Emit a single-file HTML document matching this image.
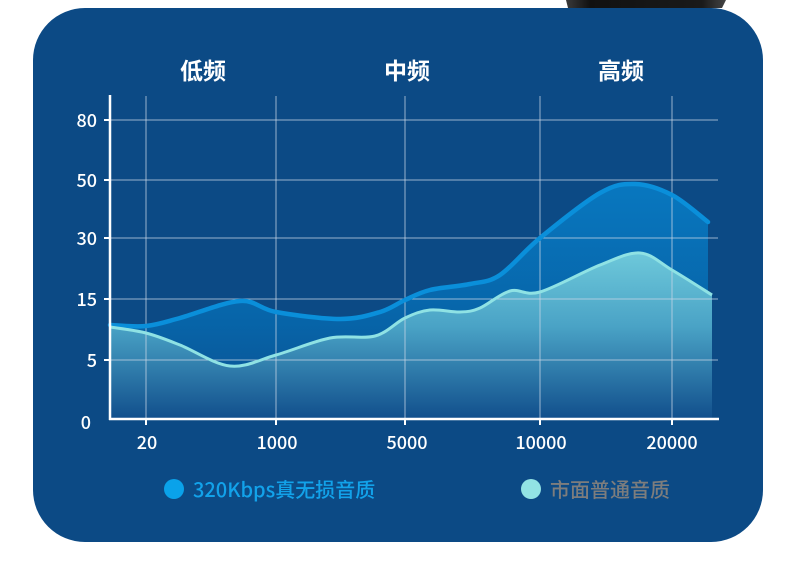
<!DOCTYPE html>
<html><head><meta charset="utf-8"><style>
html,body{margin:0;padding:0;background:#fff;}
body{width:790px;height:568px;position:relative;overflow:hidden;font-family:"Noto Sans CJK SC","Liberation Sans",sans-serif;}
svg text{font-family:"Noto Sans CJK SC","Liberation Sans",sans-serif;}
</style></head><body>
<svg width="790" height="568" viewBox="0 0 790 568" xmlns="http://www.w3.org/2000/svg" style="position:absolute;left:0;top:0">
<defs>
<linearGradient id="dev" x1="0" y1="0" x2="1" y2="0"><stop offset="0" stop-color="#3a3a3a"/><stop offset="0.15" stop-color="#111"/><stop offset="0.85" stop-color="#1a1a1a"/><stop offset="1" stop-color="#444"/></linearGradient>
<linearGradient id="gUp" x1="0" y1="180" x2="0" y2="419" gradientUnits="userSpaceOnUse"><stop offset="0" stop-color="#0878c0"/><stop offset="0.6" stop-color="#0764a8"/><stop offset="1" stop-color="#0c4f8f"/></linearGradient>
<linearGradient id="gLo" x1="0" y1="250" x2="0" y2="419" gradientUnits="userSpaceOnUse"><stop offset="0" stop-color="#6fcadb"/><stop offset="0.45" stop-color="#4aa3c6"/><stop offset="1" stop-color="#114f8c"/></linearGradient>
</defs>
<path d="M566 0 L726 0 L722 8 L568 8 Z" fill="url(#dev)"/>
<rect x="33" y="8" width="730" height="534" rx="52" fill="#0c4a85"/>
<g font-size="23" font-weight="bold" fill="#fff" text-anchor="middle">
<text x="203" y="79">低频</text><text x="407" y="79">中频</text><text x="621" y="79">高频</text>
</g>
<path id="upFill" fill="url(#gUp)"/>
<path id="loFill" fill="url(#gLo)"/>
<g stroke="#c8d6e6" stroke-opacity="0.75" stroke-width="1">
<line x1="146" y1="96" x2="146" y2="419"/><line x1="276" y1="96" x2="276" y2="419"/><line x1="405" y1="96" x2="405" y2="419"/><line x1="540" y1="96" x2="540" y2="419"/><line x1="672" y1="96" x2="672" y2="419"/>
<line x1="110" y1="120" x2="718" y2="120"/><line x1="110" y1="180" x2="718" y2="180"/><line x1="110" y1="238" x2="718" y2="238"/><line x1="110" y1="299" x2="718" y2="299"/><line x1="110" y1="360" x2="718" y2="360"/>
</g>
<path id="upLine" fill="none" stroke="#0a8fda" stroke-width="4.5" stroke-linecap="round"/>
<path id="loLine" fill="none" stroke="#8fe2e4" stroke-width="3"/>
<g stroke="#fff" stroke-width="2.5">
<line x1="110" y1="95" x2="110" y2="420"/><line x1="109" y1="419" x2="719" y2="419"/>
</g>
<g stroke="#fff" stroke-width="2">
<line x1="104" y1="120" x2="110" y2="120"/><line x1="104" y1="180" x2="110" y2="180"/><line x1="104" y1="238" x2="110" y2="238"/><line x1="104" y1="299" x2="110" y2="299"/><line x1="104" y1="360" x2="110" y2="360"/>
<line x1="146" y1="419" x2="146" y2="425"/><line x1="276" y1="419" x2="276" y2="425"/><line x1="405" y1="419" x2="405" y2="425"/><line x1="540" y1="419" x2="540" y2="425"/><line x1="672" y1="419" x2="672" y2="425"/>
</g>
<g font-size="18" fill="#fff" text-anchor="end" font-weight="500">
<text x="97" y="127">80</text><text x="97" y="187">50</text><text x="97" y="245">30</text><text x="97" y="306">15</text><text x="97" y="367">5</text><text x="91" y="429">0</text>
</g>
<g font-size="18" fill="#fff" text-anchor="middle" font-weight="500">
<text x="147" y="449">20</text><text x="277" y="449">1000</text><text x="407" y="449">5000</text><text x="541" y="449">10000</text><text x="672" y="449">20000</text>
</g>
<circle cx="174" cy="489" r="10" fill="#0aa2ea"/>
<text x="193" y="497" font-size="20" font-weight="500" fill="#12a2ea">320Kbps真无损音质</text>
<circle cx="531" cy="489" r="10" fill="#92e3e4"/>
<text x="550" y="497" font-size="20" font-weight="500" fill="#7d7d7d">市面普通音质</text>
</svg>
<script>
function cr(p){var d="M"+p[0][0]+" "+p[0][1];for(var i=0;i<p.length-1;i++){var p0=p[i-1]||p[i],p1=p[i],p2=p[i+1],p3=p[i+2]||p2;
d+=" C"+(p1[0]+(p2[0]-p0[0])/6).toFixed(1)+" "+(p1[1]+(p2[1]-p0[1])/6).toFixed(1)+" "+(p2[0]-(p3[0]-p1[0])/6).toFixed(1)+" "+(p2[1]-(p3[1]-p1[1])/6).toFixed(1)+" "+p2[0]+" "+p2[1];}return d;}
var up=[[110,325],[146,326],[180,318],[240,301],[276,312],[340,319],[380,312],[405,300],[430,290],[470,284],[500,275],[540,238],[600,193],[635,184],[672,195],[708,222]];
var lo=[[110,327],[146,333],[180,345],[230,366],[276,355],[330,338],[375,336],[405,318],[430,310],[460,312],[480,308],[510,291],[540,292],[600,265],[640,253],[672,270],[712,295]];
var u=cr(up),l=cr(lo);
document.getElementById("upLine").setAttribute("d",u);
document.getElementById("loLine").setAttribute("d",l);
document.getElementById("upFill").setAttribute("d",u+" L708 419 L110 419 Z");
document.getElementById("loFill").setAttribute("d",l+" L712 419 L110 419 Z");
</script>
</body></html>
